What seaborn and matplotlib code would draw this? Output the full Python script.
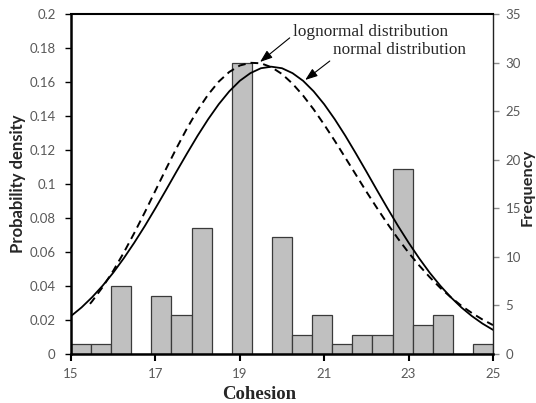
import numpy as np
import pandas as pd
import matplotlib
matplotlib.use("Agg")
import matplotlib.pyplot as plt
import seaborn as sns

# ---------------- data ----------------
bin_start = 15.0
bin_end = 25.0
n_bins = 21
freq = [1, 1, 7, 0, 6, 4, 13, 0, 30, 0, 12, 2, 4, 1, 2, 2, 19, 3, 4, 0, 1]

norm_x = [15.0, 15.25, 15.5, 15.75, 16.0, 16.25, 16.5, 16.75, 17.0, 17.25, 17.5,
          17.75, 18.0, 18.25, 18.5, 18.75, 19.0, 19.25, 19.5, 19.75, 20.0, 20.25,
          20.5, 20.75, 21.0, 21.25, 21.5, 21.75, 22.0, 22.25, 22.5, 22.75, 23.0,
          23.25, 23.5, 23.75, 24.0, 24.25, 24.5, 24.75, 25.0]
norm_y = [0.0223, 0.0274, 0.0334, 0.0402, 0.0478, 0.0563, 0.0655, 0.0753, 0.0857,
          0.0964, 0.1073, 0.1180, 0.1284, 0.1381, 0.1469, 0.1545, 0.1607, 0.1652,
          0.1681, 0.1690, 0.1681, 0.1652, 0.1607, 0.1545, 0.1469, 0.1381, 0.1284,
          0.1180, 0.1073, 0.0964, 0.0857, 0.0753, 0.0655, 0.0563, 0.0478, 0.0402,
          0.0334, 0.0274, 0.0223, 0.0179, 0.0142]

logn_x = [15.45, 15.5, 15.75, 16.0, 16.25, 16.5, 16.75, 17.0, 17.25, 17.5, 17.75, 18.0,
          18.25, 18.5, 18.75, 19.0, 19.25, 19.5, 19.75, 20.0, 20.25, 20.5, 20.75,
          21.0, 21.25, 21.5, 21.75, 22.0, 22.25, 22.5, 22.75, 23.0, 23.25, 23.5,
          23.75, 24.0, 24.25, 24.5, 24.75, 25.0]
logn_y = [0.0295, 0.0310, 0.0394, 0.0489, 0.0596, 0.0712, 0.0834, 0.0961, 0.1088, 0.1211,
          0.1328, 0.1434, 0.1526, 0.1602, 0.1659, 0.1697, 0.1713, 0.1710, 0.1687,
          0.1647, 0.1590, 0.1520, 0.1439, 0.1349, 0.1254, 0.1155, 0.1055, 0.0955,
          0.0859, 0.0766, 0.0678, 0.0596, 0.0521, 0.0452, 0.0389, 0.0334, 0.0284,
          0.0241, 0.0203, 0.0170]

x_ticks = [15, 17, 19, 21, 23, 25]
y_ticks = [0, 0.02, 0.04, 0.06, 0.08, 0.1, 0.12, 0.14, 0.16, 0.18, 0.2]
y_tick_labels = ["0", "0.02", "0.04", "0.06", "0.08", "0.1", "0.12", "0.14",
                 "0.16", "0.18", "0.2"]
y2_ticks = [0, 5, 10, 15, 20, 25, 30, 35]

# ---------------- figure ----------------
sns.set_style("ticks")
plt.rcParams['font.family'] = ['Lato', 'DejaVu Sans']

fig = plt.figure(figsize=(5.36, 4.03), dpi=100)
ax = fig.add_axes([71/536, 1-354/403, 422/536, 340/403])
ax2 = ax.twinx()

edges = np.linspace(bin_start, bin_end, n_bins + 1)
centers = (edges[:-1] + edges[1:]) / 2
df = pd.DataFrame({"c": centers, "f": np.asarray(freq, dtype=float)})
sns.histplot(data=df, x="c", weights="f", bins=n_bins, binrange=(bin_start, bin_end),
             ax=ax2, color="#c0c0c0", edgecolor="#3a3a3a", linewidth=0.9, alpha=1.0)

sns.lineplot(x=norm_x, y=norm_y, ax=ax, color="black", linewidth=1.3)
sns.lineplot(x=logn_x, y=logn_y, ax=ax, color="black", linewidth=1.4,
             linestyle=(0, (4, 2.6)))

ax.set_zorder(ax2.get_zorder() + 1)
ax.patch.set_visible(False)

ax.set_xlim(15, 25)
ax.set_ylim(0, 0.2)
ax2.set_ylim(0, 35)
ax.set_xticks(x_ticks)
ax.set_xticklabels([str(t) for t in x_ticks])
ax.set_yticks(y_ticks)
ax.set_yticklabels(y_tick_labels)
ax2.set_yticks(y2_ticks)
ax2.set_yticklabels([str(t) for t in y2_ticks])

tick_col = "#595959"
ax.tick_params(axis='x', direction='out', length=5, width=1.5, color='black',
               labelsize=9.5, labelcolor=tick_col, pad=5)
ax.tick_params(axis='y', direction='out', length=4, width=1.0, color='black',
               labelsize=9.5, labelcolor=tick_col, pad=7)
ax2.tick_params(axis='y', direction='out', length=4, width=1.0, color='#8c8c8c',
                labelsize=9.5, labelcolor=tick_col, pad=5)

for s in ['left', 'bottom']:
    ax.spines[s].set_linewidth(1.8)
    ax.spines[s].set_color('black')
ax.spines['top'].set_visible(True)
ax.spines['top'].set_linewidth(1.5)
ax.spines['top'].set_color('black')
ax.spines['right'].set_visible(True)
ax.spines['right'].set_linewidth(1.0)
ax.spines['right'].set_color('#222222')
for s in ax2.spines.values():
    s.set_visible(False)

ax.set_xlabel("Cohesion", fontsize=13.5, fontweight='bold',
              family=['Liberation Serif', 'DejaVu Serif'])
ax.xaxis.set_label_coords(0.445, -0.095)
ax.set_ylabel("Probability density", fontsize=12, fontweight='bold')
ax.yaxis.set_label_coords(-0.106, 0.5)
ax2.set_ylabel("Frequency", fontsize=11.8, fontweight='bold')
ax2.yaxis.set_label_coords(1.066, 0.49)

arrow_kw = dict(arrowstyle="-|>,head_length=0.6,head_width=0.22", color="black",
                lw=0.8, shrinkA=0, shrinkB=0)
ax.annotate("lognormal distribution", xy=(19.48, 0.1718), xytext=(20.26, 0.1894),
            fontsize=12.4, family=['Liberation Serif', 'DejaVu Serif'],
            va='center', ha='left',
            arrowprops=dict(relpos=(0.0, 0.3), **arrow_kw))
ax.annotate("normal distribution", xy=(20.55, 0.1612), xytext=(21.21, 0.1788),
            fontsize=12.4, family=['Liberation Serif', 'DejaVu Serif'],
            va='center', ha='left',
            arrowprops=dict(relpos=(0.02, 0.1), **arrow_kw))

fig.savefig("out.png", dpi=100)
